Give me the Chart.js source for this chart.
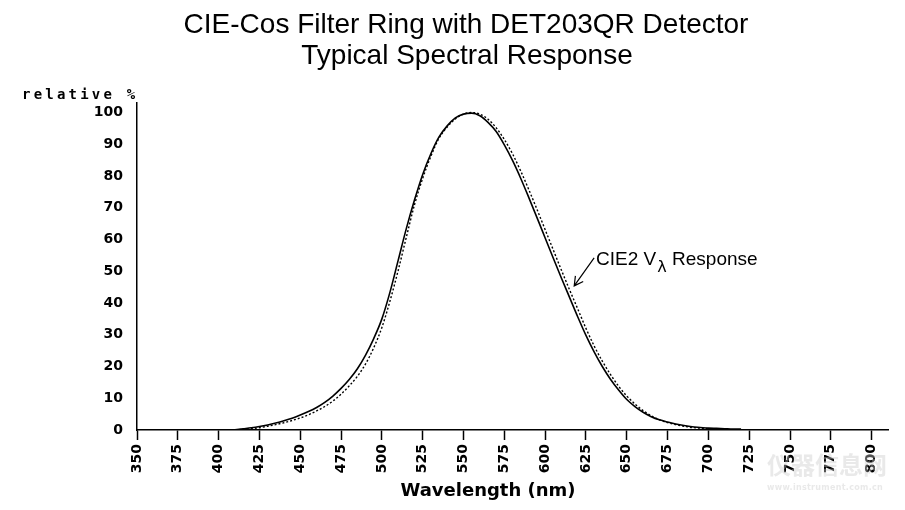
<!DOCTYPE html>
<html><head><meta charset="utf-8">
<script src="https://cdn.jsdelivr.net/npm/chart.js@4.4.1/dist/chart.umd.min.js"></script>
<style>html,body{margin:0;padding:0;background:#fff}#wrap{width:905px;height:510px;overflow:hidden}</style>
</head><body><div id="wrap"><canvas id="c" width="905" height="510"></canvas></div>
<script>
const titleLines = ['CIE-Cos Filter Ring with DET203QR Detector', 'Typical Spectral Response'];
const yAxisLabel = 'relative %';
const xAxisLabel = 'Wavelength (nm)';
const xTicks = [350,375,400,425,450,475,500,525,550,575,600,625,650,675,700,725,750,775,800];
const yTicks = [0,10,20,30,40,50,60,70,80,90,100];
const wavelengths = [410,415,420,425,430,435,440,445,450,455,460,465,470,475,480,485,490,495,500,505,510,515,520,525,530,535,540,545,550,555,560,565,570,575,580,585,590,595,600,605,610,615,620,625,630,635,640,645,650,655,660,665,670,675,680,685,690,695,700,705,710,715,720];
const detectorResponse = [0.1,0.4,0.7,1.1,1.6,2.2,2.9,3.7,4.7,5.8,7.1,8.7,10.7,13.1,15.9,19.3,23.6,28.8,35.0,43.5,53.5,63.5,72.5,80.5,87.0,92.3,95.8,98.3,99.5,99.8,99.0,96.9,94.0,89.8,84.9,79.3,73.2,66.9,60.5,54.1,47.8,41.7,35.6,29.8,24.6,20.0,16.0,12.6,9.6,7.4,5.6,4.2,3.2,2.5,1.9,1.4,1.0,0.8,0.6,0.5,0.4,0.3,0.3];
const cieResponse = [0.0,0.2,0.4,0.7,1.2,1.7,2.3,3.0,3.8,4.8,6.0,7.4,9.1,11.3,13.9,16.9,20.8,25.9,32.3,40.7,50.3,60.8,71.0,79.3,86.2,91.9,95.4,98.0,99.5,100.0,99.5,97.9,95.2,91.5,87.0,81.6,75.7,69.5,63.1,56.7,50.3,44.1,38.1,32.0,26.5,21.7,17.5,13.8,10.7,8.2,6.1,4.5,3.2,2.3,1.7,1.2,0.8,0.6,0.4,0.3,0.2,0.1,0.1];
const annotationParts = ['CIE2 V', 'λ', ' Response'];
const annotationAnchor = {tipX: 617.8, tipY: 45.4, tailX: 630.0, tailY: 54.2, textX: 631.2, textY: 52.0};
const watermarkText = ['仪器信息网', 'www.instrument.com.cn'];

const tickFont = {family: 'DejaVu Sans', weight: 'bold', size: 14};

const textPlugin = {
  id: 'texts',
  afterDraw(chart) {
    const ctx = chart.ctx;
    const xs = chart.scales.x, ys = chart.scales.y;
    ctx.save();
    ctx.fillStyle = '#000';
    ctx.textAlign = 'center';
    ctx.textBaseline = 'alphabetic';
    ctx.font = '28px "Liberation Sans", Arial, sans-serif';
    ctx.fillText(titleLines[0], 466, 33);
    ctx.fillText(titleLines[1], 467, 64);
    // y label
    ctx.textAlign = 'left';
    ctx.font = 'bold 14px "DejaVu Sans Mono", monospace';
    ctx.letterSpacing = '3.2px';
    ctx.fillText(yAxisLabel, 22, 99);
    ctx.letterSpacing = '0px';
    // x label
    ctx.textAlign = 'center';
    ctx.font = 'bold 18px "DejaVu Sans", sans-serif';
    ctx.fillText(xAxisLabel, 488, 496);
    // annotation
    const tx = xs.getPixelForValue(annotationAnchor.textX);
    const ty = ys.getPixelForValue(annotationAnchor.textY);
    ctx.textAlign = 'left';
    ctx.font = '19px "Liberation Sans", Arial, sans-serif';
    let cx = tx;
    ctx.fillText(annotationParts[0], cx, ty);
    cx += ctx.measureText(annotationParts[0]).width + 1;
    ctx.font = '16px "DejaVu Sans", sans-serif';
    ctx.fillText(annotationParts[1], cx, ty + 7);
    cx += ctx.measureText(annotationParts[1]).width;
    ctx.font = '19px "Liberation Sans", Arial, sans-serif';
    ctx.fillText(annotationParts[2], cx, ty);
    // arrow
    const ax1 = xs.getPixelForValue(annotationAnchor.tailX), ay1 = ys.getPixelForValue(annotationAnchor.tailY);
    const ax2 = xs.getPixelForValue(annotationAnchor.tipX), ay2 = ys.getPixelForValue(annotationAnchor.tipY);
    ctx.strokeStyle = '#000';
    ctx.lineWidth = 1.2;
    ctx.beginPath();
    ctx.moveTo(ax1, ay1); ctx.lineTo(ax2, ay2);
    const ang = Math.atan2(ay1 - ay2, ax1 - ax2);
    const hl = 10, ha = 0.5;
    ctx.moveTo(ax2 + hl * Math.cos(ang - ha), ay2 + hl * Math.sin(ang - ha));
    ctx.lineTo(ax2, ay2);
    ctx.lineTo(ax2 + hl * Math.cos(ang + ha), ay2 + hl * Math.sin(ang + ha));
    ctx.stroke();
    // watermark
    ctx.fillStyle = 'rgba(200,200,200,0.4)';
    ctx.textAlign = 'left';
    ctx.font = 'bold 24px "Noto Sans CJK SC", sans-serif';
    ctx.fillText(watermarkText[0], 767, 474);
    ctx.font = 'bold 8px "DejaVu Sans", sans-serif';
    ctx.letterSpacing = '0.3px';
    ctx.fillText(watermarkText[1], 767, 490);
    ctx.restore();
  }
};

new Chart(document.getElementById('c'), {
  type: 'line',
  data: {
    datasets: [
      {
        label: 'DET203QR',
        data: wavelengths.map((w, i) => ({x: w, y: detectorResponse[i]})),
        borderColor: '#000', borderWidth: 1.6, pointRadius: 0, fill: false,
        cubicInterpolationMode: 'monotone'
      },
      {
        label: 'CIE2 V',
        data: wavelengths.map((w, i) => ({x: w, y: cieResponse[i]})),
        borderColor: '#000', borderWidth: 1.4, borderDash: [2, 2], pointRadius: 0, fill: false,
        cubicInterpolationMode: 'monotone'
      }
    ]
  },
  options: {
    responsive: false,
    devicePixelRatio: 1,
    animation: false,
    layout: {padding: {left: 0, right: 17, top: 103, bottom: 0}},
    plugins: {legend: {display: false}, tooltip: {enabled: false}, title: {display: false}},
    scales: {
      x: {
        type: 'linear', min: 350, max: 810,
        afterBuildTicks: s => { s.ticks = xTicks.map(v => ({value: v})); },
        afterFit: s => { s.height = 80; },
        ticks: {minRotation: 90, maxRotation: 90, autoSkip: false, font: tickFont, color: '#000', padding: 4},
        grid: {display: true, drawOnChartArea: false, drawTicks: true, tickLength: 10, tickColor: '#000', tickWidth: 1.5},
        border: {display: true, color: '#000', width: 1.5}
      },
      y: {
        type: 'linear', min: 0, max: 103,
        afterBuildTicks: s => { s.ticks = yTicks.map(v => ({value: v})); },
        afterFit: s => { s.width = 137; },
        ticks: {font: tickFont, color: '#000', padding: 6},
        grid: {display: false},
        border: {display: true, color: '#000', width: 1.5}
      }
    }
  },
  plugins: [textPlugin]
});
</script></body></html>
